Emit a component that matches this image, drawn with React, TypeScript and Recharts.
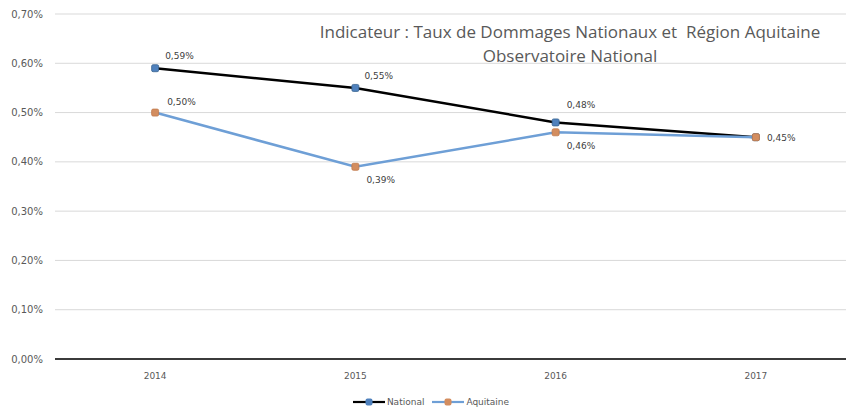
import { CartesianGrid, Legend, Line, LineChart, XAxis, YAxis } from "recharts";

const years = ["2014", "2015", "2016", "2017"];
const nationalRates = [0.0059, 0.0055, 0.0048, 0.0045];
const aquitaineRates = [0.005, 0.0039, 0.0046, 0.0045];
const yTicks = [0, 0.001, 0.002, 0.003, 0.004, 0.005, 0.006, 0.007];

const chartData = years.map((year, i) => ({
  year,
  national: nationalRates[i],
  aquitaine: aquitaineRates[i]
}));

const NATIONAL_LINE = "#000000";
const NATIONAL_MARKER = "#4f81bd";
const AQUITAINE_LINE = "#6e9fd6";
const AQUITAINE_MARKER = "#d38d5f";
const LABEL_FONT = "'DejaVu Sans', sans-serif";

function formatPercent(value: number): string {
  return `${(value * 100).toFixed(2).replace(".", ",")}%`;
}

function makeDot(fill: string, stroke: string) {
  return (props: any) => {
    const { cx, cy, index } = props;
    if (cx == null || cy == null) return <g key={`d-${index}`} />;
    return (
      <rect
        key={`d-${index}`}
        x={cx - 3.5}
        y={cy - 3.5}
        width={7}
        height={7}
        rx={1.5}
        fill={fill}
        stroke={stroke}
        strokeWidth={0.8}
      />
    );
  };
}

// offsets per point, relative to the marker
const nationalLabelOffsets = [
  { dx: 10, dy: -9 },
  { dx: 9, dy: -9 },
  { dx: 11, dy: -14 },
  null
];
const aquitaineLabelOffsets = [
  { dx: 12, dy: -8 },
  { dx: 11, dy: 16 },
  { dx: 11, dy: 17 },
  { dx: 11, dy: 4 }
];

function makeLabel(offsets: Array<{ dx: number; dy: number } | null>) {
  return (props: any) => {
    const { x, y, value, index } = props;
    const off = offsets[index];
    if (!off || x == null || y == null) return null;
    return (
      <text
        x={x + off.dx}
        y={y + off.dy}
        fontSize={9}
        fontFamily={LABEL_FONT}
        fill="#404040"
      >
        {formatPercent(value)}
      </text>
    );
  };
}

function LegendContent() {
  const items = [
    { name: "National", line: NATIONAL_LINE, marker: NATIONAL_MARKER },
    { name: "Aquitaine", line: AQUITAINE_LINE, marker: AQUITAINE_MARKER }
  ];
  return (
    <div style={{ display: "flex", justifyContent: "center", gap: 8, paddingLeft: 6 }}>
      {items.map((item) => (
        <div key={item.name} style={{ display: "flex", alignItems: "center" }}>
          <svg width={32} height={10}>
            <line x1={0} y1={5} x2={32} y2={5} stroke={item.line} strokeWidth={2.2} />
            <rect x={12.5} y={1.5} width={7} height={7} rx={2} fill={item.marker} />
          </svg>
          <span style={{ fontSize: 9, fontFamily: LABEL_FONT, color: "#595959", marginLeft: 2 }}>
            {item.name}
          </span>
        </div>
      ))}
    </div>
  );
}

export default function App() {
  return (
    <div style={{ position: "relative", width: 846, height: 409, overflow: "hidden", background: "#fff" }}>
      <style>{"body{margin:0}"}</style>
      <div
        style={{
          position: "absolute",
          left: 290,
          top: 20,
          width: 560,
          textAlign: "center",
          fontFamily: "'Open Sans', sans-serif",
          fontSize: 17,
          lineHeight: "24px",
          color: "#595959",
          zIndex: 1
        }}
      >
        <div>Indicateur : Taux de Dommages Nationaux et&nbsp; Région Aquitaine</div>
        <div>Observatoire National</div>
      </div>
      <LineChart
        width={856}
        height={409}
        data={chartData}
        margin={{ top: 14, right: 0, bottom: 0, left: 0 }}
      >
        <CartesianGrid vertical={false} stroke="#d9d9d9" strokeWidth={1} />
        <XAxis
          dataKey="year"
          scale="band"
          height={30}
          axisLine={{ stroke: "#000", strokeWidth: 1.5 }}
          tickLine={false}
          tickMargin={8}
          tick={{ fill: "#595959", fontSize: 9, fontFamily: LABEL_FONT }}
        />
        <YAxis
          width={55}
          domain={[0, 0.007]}
          ticks={yTicks}
          interval={0}
          axisLine={false}
          tickLine={false}
          tickMargin={6}
          tickFormatter={formatPercent}
          tick={{ fill: "#595959", fontSize: 10, fontFamily: LABEL_FONT }}
        />
        <Legend
          verticalAlign="bottom"
          height={20}
          content={<LegendContent />}
          wrapperStyle={{ bottom: -8 }}
        />
        <Line
          type="linear"
          dataKey="national"
          name="National"
          stroke={NATIONAL_LINE}
          strokeWidth={2.5}
          dot={makeDot(NATIONAL_MARKER, "#3a6591")}
          label={makeLabel(nationalLabelOffsets)}
          isAnimationActive={false}
        />
        <Line
          type="linear"
          dataKey="aquitaine"
          name="Aquitaine"
          stroke={AQUITAINE_LINE}
          strokeWidth={2.5}
          dot={makeDot(AQUITAINE_MARKER, "#c07a4c")}
          label={makeLabel(aquitaineLabelOffsets)}
          isAnimationActive={false}
        />
      </LineChart>
    </div>
  );
}
